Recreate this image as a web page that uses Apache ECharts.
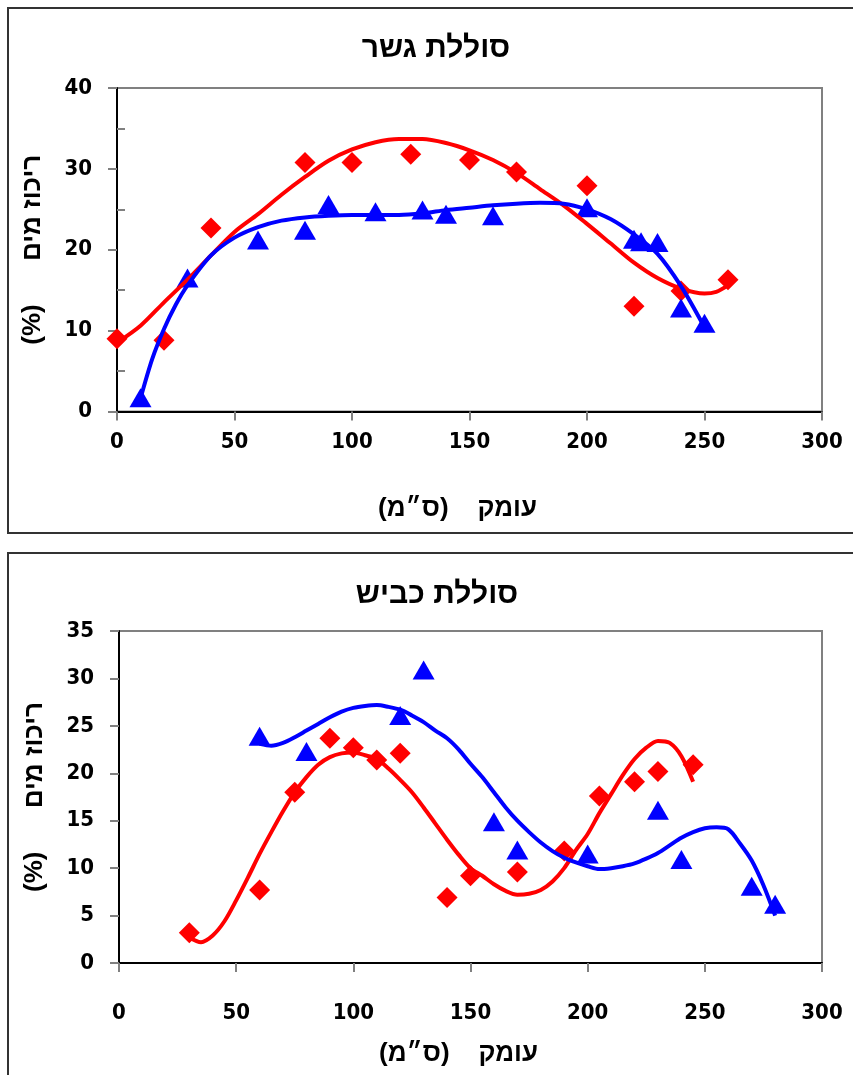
<!DOCTYPE html>
<html>
<head>
<meta charset="utf-8">
<script src="https://cdn.jsdelivr.net/npm/echarts@6/dist/echarts.min.js"></script>
<style>
html,body{margin:0;padding:0;background:#fff;overflow:hidden;}
#chart{width:853px;height:1075px;}
</style>
</head>
<body>
<div id="chart"></div>
<script>
// ---- Titles / axis names ----
const topTitle = 'סוללת גשר';
const bottomTitle = 'סוללת כביש';
const yName = '\u200Fריכוז מים      (%)\u200F';
const xName = '\u200Fעומק    (ס״מ)\u200F';

// ---- Axis ticks ----
const xTicks = [0, 50, 100, 150, 200, 250, 300];
const topYTicks = [0, 10, 20, 30, 40];
const topYMinorTicks = [5, 15, 25, 35];
const bottomYTicks = [0, 5, 10, 15, 20, 25, 30, 35];

// ---- Top chart (bridge embankment): measured points [depth, %] ----
const bridgeRed = [[0,9.0],[20,8.8],[40,22.7],[80,30.8],[100,30.8],[125,31.8],[150,31.1],[170,29.6],[200,27.9],[220,13.0],[240,14.9],[260,16.3]];
const bridgeBlue = [[10,1.7],[30,16.5],[60,21.2],[80,22.4],[90,25.6],[110,24.7],[130,24.9],[140,24.4],[160,24.2],[200,25.2],[220,21.3],[223,21.0],[230,20.9],[240,12.8],[250,10.9]];
// trend lines
const bridgeRedTrend = [[0,8.5],[10,10.6],[20,13.5],[30,16.3],[40,19.3],[50,22.2],[60,24.4],[70,26.8],[80,29.0],[90,31.0],[100,32.4],[110,33.3],[120,33.7],[130,33.7],[140,33.2],[150,32.3],[160,31.1],[170,29.5],[180,27.5],[190,25.5],[200,23.2],[210,20.8],[220,18.4],[230,16.5],[240,15.2],[250,14.6],[255,14.8],[260,15.6]];
const bridgeBlueTrend = [[10,1.6],[15,6.5],[20,10.2],[25,13.2],[30,15.6],[40,19.3],[50,21.5],[60,22.8],[70,23.6],[80,24.0],[90,24.2],[100,24.3],[110,24.3],[120,24.3],[130,24.5],[140,24.9],[150,25.2],[160,25.5],[170,25.7],[180,25.8],[190,25.7],[200,25.0],[210,23.8],[220,21.9],[230,19.5],[240,15.5],[250,10.4]];

// ---- Bottom chart (road embankment) ----
const roadRed = [[30,3.2],[60,7.7],[75,18.0],[90,23.7],[100,22.7],[110,21.4],[120,22.1],[140,6.9],[150,9.2],[170,9.6],[190,11.8],[205,17.6],[220,19.1],[230,20.2],[245,20.9]];
const roadBlue = [[60,23.9],[80,22.3],[120,26.1],[130,30.9],[160,14.9],[170,11.9],[200,11.5],[230,16.1],[240,10.9],[270,8.1],[280,6.2]];
const roadRedTrend = [[30,2.7],[35,2.2],[40,2.9],[45,4.4],[50,6.6],[55,9.0],[60,11.5],[65,13.8],[70,16.0],[75,18.0],[80,19.6],[85,20.9],[90,21.7],[95,22.1],[100,22.2],[105,21.9],[110,21.5],[115,20.5],[120,19.3],[125,18.0],[130,16.4],[135,14.7],[140,13.0],[145,11.4],[150,10.0],[155,9.2],[160,8.3],[165,7.6],[170,7.2],[175,7.3],[180,7.7],[185,8.6],[190,10.0],[195,11.9],[200,13.6],[205,15.8],[210,17.8],[215,19.8],[220,21.5],[225,22.7],[230,23.4],[235,23.2],[240,21.8],[245,19.1]];
const roadBlueTrend = [[60,23.1],[65,22.9],[70,23.2],[75,23.8],[80,24.5],[85,25.2],[90,25.9],[95,26.5],[100,26.9],[105,27.1],[110,27.2],[115,27.0],[120,26.7],[125,26.1],[130,25.4],[135,24.5],[140,23.7],[145,22.5],[150,21.0],[155,19.6],[160,18.0],[165,16.4],[170,15.0],[175,13.8],[180,12.7],[185,11.8],[190,11.1],[195,10.6],[200,10.2],[205,9.9],[210,10.0],[215,10.2],[220,10.5],[225,11.0],[230,11.6],[235,12.4],[240,13.2],[245,13.8],[250,14.2],[255,14.3],[260,14.1],[265,12.6],[270,10.8],[275,8.2],[280,5.0]];

const RED = '#FF0000';
const BLUE = '#0000FF';
const numFont = "'DejaVu Sans Condensed', 'DejaVu Sans', sans-serif";
const hebFont = "'Liberation Sans', 'DejaVu Sans', sans-serif";

function xAxisCfg(gridIndex, margin, nameGap) {
  return {
    gridIndex, type: 'value', min: xTicks[0], max: xTicks[xTicks.length - 1],
    interval: xTicks[1] - xTicks[0],
    axisLine: { show: true, lineStyle: { color: '#000', width: 2 } },
    axisTick: { show: true, length: 9, lineStyle: { color: '#808080', width: 2 } },
    axisLabel: { margin, color: '#000', fontSize: 22, fontWeight: 'bold', fontFamily: numFont },
    splitLine: { show: false },
    name: xName, nameLocation: 'middle', nameGap, nameMoveOverlap: false,
    nameTextStyle: { color: '#000', fontSize: 26, fontWeight: 'bold', fontFamily: hebFont, padding: [0, 24, 0, 0] }
  };
}
function yAxisCfg(gridIndex, ticks, nameGap) {
  return {
    gridIndex, type: 'value', min: ticks[0], max: ticks[ticks.length - 1],
    interval: ticks[1] - ticks[0], position: 'left',
    axisLine: { show: true, lineStyle: { color: '#000', width: 2 } },
    axisTick: { show: true, length: 9, lineStyle: { color: '#808080', width: 2 } },
    axisLabel: { margin: 25, color: '#000', fontSize: 22, fontWeight: 'bold', fontFamily: numFont },
    splitLine: { show: false },
    name: yName, nameLocation: 'middle', nameGap, nameRotate: 90, nameMoveOverlap: false,
    nameTextStyle: { color: '#000', fontSize: 26, fontWeight: 'bold', fontFamily: hebFont }
  };
}

const chart = echarts.init(document.getElementById('chart'), null, { renderer: 'canvas' });
const option = {
  animation: false,
  backgroundColor: '#fff',
  graphic: [
    { type: 'rect', shape: { x: 8, y: 8, width: 900, height: 525 }, style: { fill: 'none', stroke: '#333', lineWidth: 2 }, silent: true, z: -1 },
    { type: 'rect', shape: { x: 8, y: 553, width: 900, height: 600 }, style: { fill: 'none', stroke: '#333', lineWidth: 2 }, silent: true, z: -1 }
  ],
  title: [
    { text: topTitle, left: 431, top: 29, textAlign: 'center', textStyle: { fontSize: 30, fontWeight: 'bold', color: '#000', fontFamily: hebFont } },
    { text: bottomTitle, left: 432, top: 575, textAlign: 'center', textStyle: { fontSize: 30, fontWeight: 'bold', color: '#000', fontFamily: hebFont } }
  ],
  grid: [
    { left: 117, top: 88, width: 705, height: 323.5, show: true, borderColor: '#808080', borderWidth: 2, backgroundColor: 'transparent' },
    { left: 119, top: 631, width: 703, height: 332, show: true, borderColor: '#808080', borderWidth: 2, backgroundColor: 'transparent' }
  ],
  xAxis: [ xAxisCfg(0, 20, 84), xAxisCfg(1, 39, 78) ],
  yAxis: [
    yAxisCfg(0, topYTicks, 71),
    {
      gridIndex: 0, type: 'value', min: topYTicks[0], max: topYTicks[topYTicks.length - 1], position: 'left', offset: 0,
      axisLine: { show: false }, axisLabel: { show: false }, splitLine: { show: false },
      axisTick: { show: true, inside: true, length: 8, customValues: topYMinorTicks, lineStyle: { color: '#808080', width: 2 } }
    },
    yAxisCfg(1, bottomYTicks, 71)
  ],
  series: [
    { type: 'scatter', xAxisIndex: 0, yAxisIndex: 0, data: bridgeRed, symbol: 'diamond', symbolSize: 21, itemStyle: { color: RED, opacity: 1 } },
    { type: 'scatter', xAxisIndex: 0, yAxisIndex: 0, data: bridgeBlue, symbol: 'triangle', symbolSize: [22, 19], itemStyle: { color: BLUE, opacity: 1 } },
    { type: 'line', xAxisIndex: 0, yAxisIndex: 0, data: bridgeRedTrend, showSymbol: false, smooth: 0.3, lineStyle: { color: RED, width: 4 }, itemStyle: { color: RED } },
    { type: 'line', xAxisIndex: 0, yAxisIndex: 0, data: bridgeBlueTrend, showSymbol: false, smooth: 0.3, lineStyle: { color: BLUE, width: 4 }, itemStyle: { color: BLUE } },

    { type: 'scatter', xAxisIndex: 1, yAxisIndex: 2, data: roadRed, symbol: 'diamond', symbolSize: 21, itemStyle: { color: RED, opacity: 1 } },
    { type: 'scatter', xAxisIndex: 1, yAxisIndex: 2, data: roadBlue, symbol: 'triangle', symbolSize: [22, 19], itemStyle: { color: BLUE, opacity: 1 } },
    { type: 'line', xAxisIndex: 1, yAxisIndex: 2, data: roadRedTrend, showSymbol: false, smooth: 0.3, lineStyle: { color: RED, width: 4 }, itemStyle: { color: RED } },
    { type: 'line', xAxisIndex: 1, yAxisIndex: 2, data: roadBlueTrend, showSymbol: false, smooth: 0.3, lineStyle: { color: BLUE, width: 4 }, itemStyle: { color: BLUE } }
  ]
};
chart.setOption(option);
</script>
</body>
</html>
